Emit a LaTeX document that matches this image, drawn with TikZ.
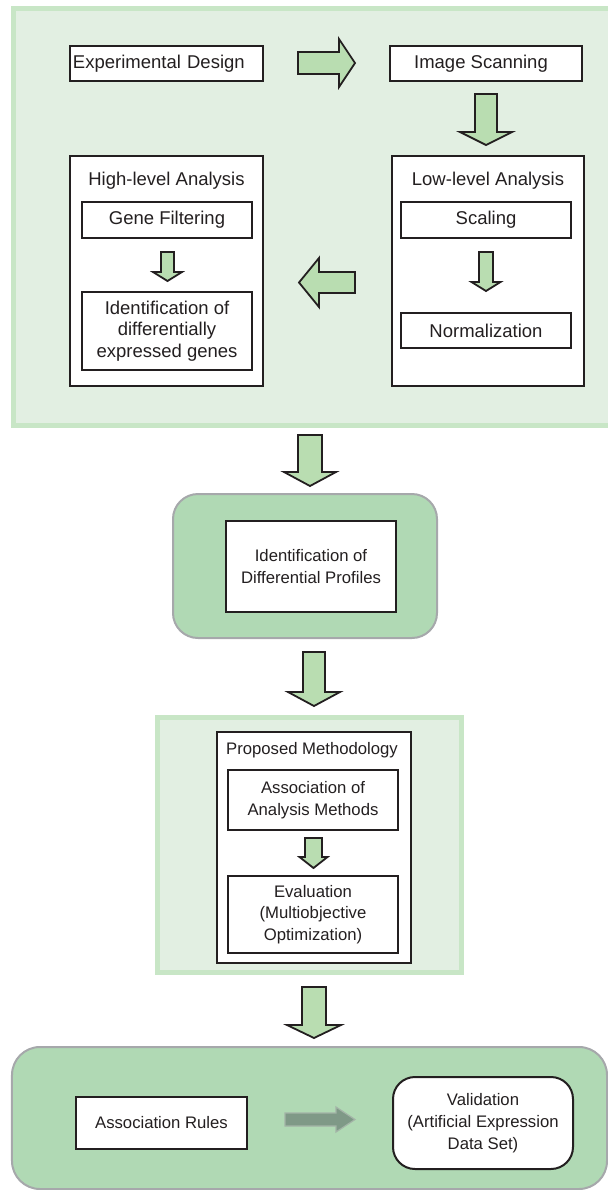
\documentclass[tikz,border=0pt]{standalone}
\usepackage{fontspec}
\setmainfont{Liberation Sans}
\definecolor{panelfill}{HTML}{E2EFE2}
\definecolor{panelline}{HTML}{C8E6C6}
\definecolor{arrowfill}{HTML}{B9DDB1}
\definecolor{contfill}{HTML}{B0D9B4}
\definecolor{contline}{HTML}{A6A8AB}
\definecolor{grayarrow}{HTML}{7F9987}
\definecolor{grayarrowline}{HTML}{A3B4A7}
\definecolor{txt}{HTML}{231F20}
\newcommand\vblk[6]{\draw[blk] ({#1-#5},#2) -- ({#1+#5},#2) -- ({#1+#5},#3) -- ({#1+#6},#3) -- (#1,#4) -- ({#1-#6},#3) -- ({#1-#5},#3) -- cycle;}
\newcommand\hblk[6]{\draw[blk] (#2,{#1-#5}) -- (#3,{#1-#5}) -- (#3,{#1-#6}) -- (#4,#1) -- (#3,{#1+#6}) -- (#3,{#1+#5}) -- (#2,{#1+#5}) -- cycle;}
\begin{document}
\begin{tikzpicture}[x=1bp,y=-1bp,
  box/.style={draw=txt, line width=2bp, fill=white, inner sep=0pt, text=txt, align=center},
  big/.style={font=\fontsize{18.5bp}{21.7bp}\selectfont, text=txt, align=center},
  small/.style={font=\fontsize{16.7bp}{21.7bp}\selectfont, text=txt, align=center},
  panel/.style={draw=panelline, line width=5bp, fill=panelfill, inner sep=0pt},
  cont/.style={draw=contline, line width=2bp, fill=contfill, inner sep=0pt},
  blk/.style={draw=txt, line width=1.8bp, fill=arrowfill, line join=miter}]
\useasboundingbox (0,0) rectangle (608,1190);
\clip (0,0) rectangle (608,1190);
% top panel
\node[panel, minimum width=640bp, minimum height=417bp, anchor=north west] (top) at (10.5,5.5) {};
\node[box,big,text width=187bp,inner xsep=3bp,align=left,minimum height=35bp] (exp) at (166.5,63.5) {Experimental Design};
\node[box,big,minimum width=192bp,minimum height=35bp] (img) at (486,63.5) {\hspace*{-10bp}Image Scanning};
\node[box,minimum width=193bp,minimum height=230bp] (high) at (166.5,271) {};
\node[big] (hight) at (166.5,181) {High-level Analysis};
\node[box,big,minimum width=170bp,minimum height=36bp] (gene) at (167,220) {Gene Filtering};
\node[box,big,minimum width=170bp,minimum height=78bp] (ident) at (167,331) {Identification of\\differentially\\expressed genes};
\node[box,minimum width=192bp,minimum height=230bp] (low) at (488,271) {};
\node[big] (lowt) at (488,181) {Low-level Analysis};
\node[box,big,minimum width=170bp,minimum height=36bp] (scal) at (486,220) {Scaling};
\node[box,big,minimum width=170bp,minimum height=35bp] (norm) at (486,330.5) {Normalization};
\hblk{63}{298}{339}{355}{11}{24}
\vblk{486}{94}{132}{145}{11}{26}
\hblk{282.5}{355}{319}{299}{10.5}{24.5}
\vblk{167.5}{252}{272}{281}{6.5}{14.5}
\vblk{486}{252}{282}{291}{7}{14.5}
% differential profiles
\vblk{310}{435}{472}{486}{12}{26}
\node[cont,rounded corners=25bp,minimum width=264bp,minimum height=144bp] (c1) at (305,566) {};
\node[box,small,minimum width=170bp,minimum height=91bp] (diff) at (311,566.5) {Identification of\\Differential Profiles};
% proposed methodology
\vblk{314}{652}{692}{706}{11}{26}
\node[panel,minimum width=304bp,minimum height=255bp] (pp) at (309.5,845) {};
\node[box,minimum width=194bp,minimum height=231bp] (pm) at (314,847.5) {};
\node[small] (pmt) at (312,750) {Proposed Methodology};
\node[box,small,minimum width=170bp,minimum height=60bp] (assoc) at (313,800) {Association of\\Analysis Methods};
\vblk{313.5}{838}{857}{868}{8.5}{14}
\node[box,small,minimum width=170bp,minimum height=77bp] (eval) at (313,914.5) {Evaluation\\(Multiobjective\\Optimization)};
% bottom
\vblk{314}{987}{1025}{1038}{12}{27}
\node[cont,rounded corners=28bp,minimum width=595bp,minimum height=142bp] (c2) at (309.5,1118) {};
\node[box,small,minimum width=171bp,minimum height=52bp] (rules) at (161.5,1123) {Association Rules};
\node[box,small,rounded corners=22bp,minimum width=180bp,minimum height=92bp] (valid) at (483,1123) {Validation\\(Artificial Expression\\Data Set)};
\draw[line width=1.2bp, draw=grayarrowline, fill=grayarrow] (285,1113) -- (336,1113) -- (336,1107) -- (355,1119.5) -- (336,1132) -- (336,1126) -- (285,1126) -- cycle;
\end{tikzpicture}
\end{document}
